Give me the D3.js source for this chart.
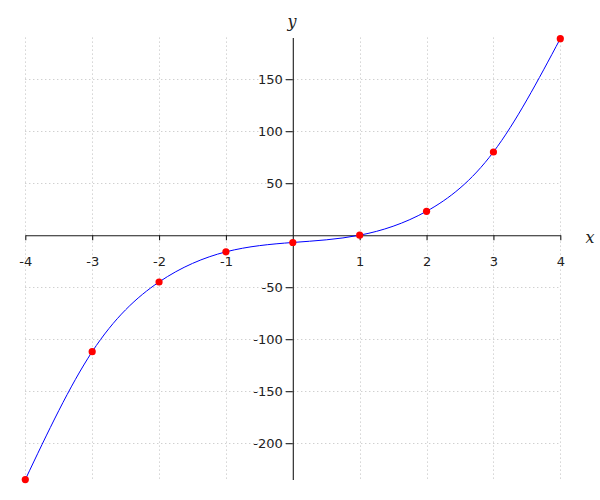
<!DOCTYPE html>
<html>
<head>
<meta charset="utf-8">
<script src="https://cdn.jsdelivr.net/npm/d3@7"></script>
<style>
  html, body { margin: 0; padding: 0; background: #fff; }
  svg { display: block; }
</style>
</head>
<body>
<svg id="chart" width="600" height="500"></svg>
<script>
const xValues = [-4, -3, -2, -1, 0, 1, 2, 3, 4];
const yValues = [-235, -112, -45, -16, -7, 0, 23, 80, 189];
const xTickValues = [-4, -3, -2, -1, 1, 2, 3, 4];
const yTickValues = [-200, -150, -100, -50, 50, 100, 150];
const xLabel = "x";
const yLabel = "y";

const svg = d3.select("#chart");
const x = d3.scaleLinear().domain([-4, 4]).range([25.3, 560.3]);
const y = d3.scaleLinear().domain([-235, 190]).range([479.6, 37.6]);

const data = xValues.map((v, i) => ({ x: v, y: yValues[i] }));

// grid
const grid = svg.append("g").attr("class", "grid")
  .attr("stroke", "#bdbdbd").attr("stroke-width", 1).attr("stroke-dasharray", "1,3");
grid.selectAll("line.v").data(xTickValues).join("line").attr("class", "v")
  .attr("x1", d => Math.round(x(d)) + 0.5).attr("x2", d => Math.round(x(d)) + 0.5)
  .attr("y1", y.range()[1]).attr("y2", y.range()[0]);
grid.selectAll("line.h").data(yTickValues).join("line").attr("class", "h")
  .attr("y1", d => Math.round(y(d)) + 0.5).attr("y2", d => Math.round(y(d)) + 0.5)
  .attr("x1", x.range()[0]).attr("x2", x.range()[1]);

// axes
const xAxis = d3.axisBottom(x).tickValues(xTickValues).tickSize(5).tickSizeOuter(0).tickPadding(17)
  .tickFormat(d3.format("d"));
const gx = svg.append("g").attr("transform", `translate(0,${y(0)})`).call(xAxis);
const yAxis = d3.axisLeft(y).tickValues(yTickValues).tickSize(7).tickSizeOuter(0).tickPadding(3)
  .tickFormat(d3.format("d"));
const gy = svg.append("g").attr("transform", `translate(${x(0)},0)`).call(yAxis);

[gx, gy].forEach(g => {
  g.select(".domain").attr("stroke", "#1a1a1a").attr("stroke-width", 1.1);
  g.selectAll(".tick line").attr("stroke", "#1a1a1a").attr("stroke-width", 1.1);
  g.selectAll(".tick text").attr("fill", "#222").attr("font-family", "DejaVu Sans")
    .attr("font-size", 13);
});
gx.selectAll(".tick text").text(d => d < 0 ? "-" + Math.abs(d) : String(d));
gy.selectAll(".tick text").text(d => d < 0 ? "-" + Math.abs(d) : String(d));

// axis labels
svg.append("text").attr("x", 292).attr("y", 27).attr("text-anchor", "middle")
  .attr("font-family", "DejaVu Serif").attr("font-style", "italic").attr("font-size", 16)
  .attr("fill", "#222").text(yLabel);
svg.append("text").attr("x", 590).attr("y", 243).attr("text-anchor", "middle")
  .attr("font-family", "DejaVu Serif").attr("font-style", "italic").attr("font-size", 16)
  .attr("fill", "#222").text(xLabel);

// curve
const line = d3.line().x(d => x(d.x)).y(d => y(d.y)).curve(d3.curveNatural);
svg.append("path").datum(data).attr("d", line)
  .attr("fill", "none").attr("stroke", "#0000ff").attr("stroke-width", 1);

// points
svg.append("g").selectAll("circle").data(data).join("circle")
  .attr("cx", d => x(d.x)).attr("cy", d => y(d.y)).attr("r", 3.6)
  .attr("fill", "#ff0000");
</script>
</body>
</html>
